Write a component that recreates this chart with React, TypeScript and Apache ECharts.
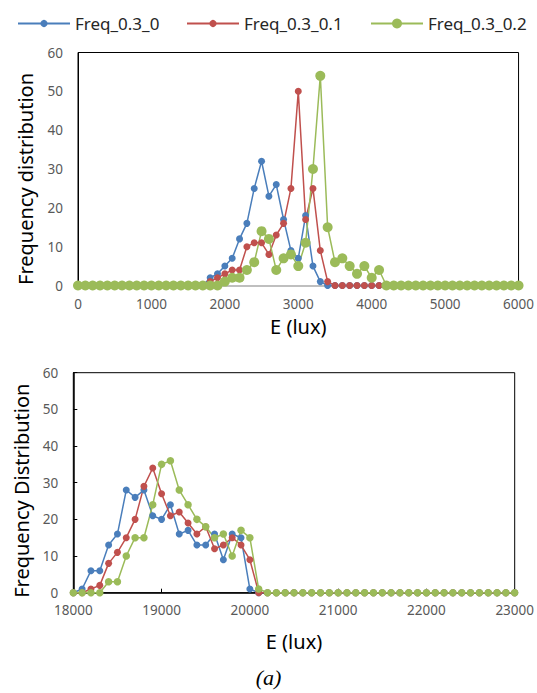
import React, { useEffect, useRef } from "react";
import * as echarts from "echarts";

// ---- data ----
const SERIES_NAMES = ["Freq_0.3_0", "Freq_0.3_0.1", "Freq_0.3_0.2"];
const COLORS = ["#4A7EBB", "#C0504D", "#9BBB59"];

// top panel: E from 0 to 6000 lux, bins of 100
const TOP_START = 0;
const TOP_STEP = 100;
const TOP_X_TICKS = [0, 1000, 2000, 3000, 4000, 5000, 6000];
const topBlue = [
  0, 0, 0, 0, 0, 0, 0, 0, 0, 0, 0, 0, 0, 0, 0, 0, 0, 0,
  2, 3, 5, 7, 12, 16, 25, 32, 23, 26, 17, 9, 7, 18, 5, 1,
  0, 0, 0, 0, 0, 0, 0, 0, 0, 0, 0, 0, 0, 0, 0, 0, 0, 0, 0, 0, 0, 0, 0, 0, 0, 0, 0,
];
const topRed = [
  0, 0, 0, 0, 0, 0, 0, 0, 0, 0, 0, 0, 0, 0, 0, 0, 0, 0,
  1, 2, 3, 4, 4, 10, 11, 11, 8, 13, 16, 25, 50, 17, 25, 9, 1,
  0, 0, 0, 0, 0, 0, 0, 0, 0, 0, 0, 0, 0, 0, 0, 0, 0, 0, 0, 0, 0, 0, 0, 0, 0, 0,
];
const topGreen = [
  0, 0, 0, 0, 0, 0, 0, 0, 0, 0, 0, 0, 0, 0, 0, 0, 0, 0, 0, 0,
  1, 2, 2, 4, 6, 14, 12, 4, 7, 8, 5, 11, 30, 54, 15, 6, 7, 5, 3, 5, 2, 4,
  0, 0, 0, 0, 0, 0, 0, 0, 0, 0, 0, 0, 0, 0, 0, 0, 0, 0, 0,
];

// bottom panel: E from 18000 to 23000 lux, bins of 100
const BOTTOM_START = 18000;
const BOTTOM_STEP = 100;
const BOTTOM_X_TICKS = [18000, 19000, 20000, 21000, 22000, 23000];
const bottomBlue = [
  0, 1, 6, 6, 13, 16, 28, 26, 28, 21, 20, 24, 16, 17, 13, 13, 16, 9, 16, 15, 1,
  0, 0, 0, 0, 0, 0, 0, 0, 0, 0, 0, 0, 0, 0, 0, 0, 0, 0, 0, 0, 0, 0, 0, 0, 0, 0, 0, 0, 0, 0,
];
const bottomRed = [
  0, 0, 1, 2, 8, 11, 15, 20, 29, 34, 27, 21, 22, 19, 16, 18, 12, 13, 15, 13, 9,
  0, 0, 0, 0, 0, 0, 0, 0, 0, 0, 0, 0, 0, 0, 0, 0, 0, 0, 0, 0, 0, 0, 0, 0, 0, 0, 0, 0, 0, 0,
];
const bottomGreen = [
  0, 0, 0, 0, 3, 3, 10, 15, 15, 24, 35, 36, 28, 24, 20, 18, 15, 16, 10, 17, 15, 1,
  0, 0, 0, 0, 0, 0, 0, 0, 0, 0, 0, 0, 0, 0, 0, 0, 0, 0, 0, 0, 0, 0, 0, 0, 0, 0, 0, 0, 0,
];

const FONT = "'Noto Sans', 'Open Sans', sans-serif";

function toPairs(vals: number[], start: number, step: number) {
  return vals.map((v, i) => [start + i * step, v]);
}

function mkSeries(idx: number, vals: number[], start: number, step: number, gi: number, size: number) {
  return {
    name: SERIES_NAMES[idx],
    type: "line",
    xAxisIndex: gi,
    yAxisIndex: gi,
    data: toPairs(vals, start, step),
    symbol: "circle",
    symbolSize: size,
    showSymbol: true,
    showAllSymbol: true,
    clip: false,
    lineStyle: { color: COLORS[idx], width: 1.5 },
    itemStyle: { color: COLORS[idx] },
    emphasis: { disabled: true },
  };
}

export default function App() {
  const ref = useRef<HTMLDivElement>(null);
  useEffect(() => {
    if (!ref.current) return;
    const chart = echarts.init(ref.current, undefined, { renderer: "svg" });
    const plain = (v: number) => String(v);
    const tickLabel = { color: "#595959", fontSize: 13.5, fontFamily: FONT, formatter: plain };
    const nameStyle = { color: "#000", fontSize: 20, fontFamily: FONT };
    const legendText = { color: "#262626", fontSize: 17, fontFamily: FONT };
    chart.setOption({
      animation: false,
      backgroundColor: "#fff",
      legend: [
        { data: [SERIES_NAMES[0]], left: 17, top: 15, padding: 0, itemWidth: 52, itemHeight: 9, textStyle: legendText, selectedMode: false },
        { data: [SERIES_NAMES[1]], left: 186, top: 15, padding: 0, itemWidth: 52, itemHeight: 9, textStyle: legendText, selectedMode: false },
        { data: [SERIES_NAMES[2]], left: 370, top: 15, padding: 0, itemWidth: 52, itemHeight: 12.5, textStyle: legendText, selectedMode: false },
      ],
      grid: [
        { left: 78, right: 18, top: 52.5, height: 233, show: true, borderColor: "#000", borderWidth: 1, backgroundColor: "transparent" },
        { left: 73.3, right: 19, top: 372.7, height: 220, show: true, borderColor: "#000", borderWidth: 1, backgroundColor: "transparent" },
      ],
      xAxis: [
        {
          gridIndex: 0,
          type: "value",
          min: TOP_X_TICKS[0],
          max: TOP_X_TICKS[TOP_X_TICKS.length - 1],
          interval: 1000,
          name: "E (lux)",
          nameLocation: "middle",
          nameGap: 31,
          nameTextStyle: nameStyle,
          axisLine: { show: true, lineStyle: { color: "#BFBFBF", width: 2 } },
          axisTick: { show: false },
          splitLine: { show: false },
          axisLabel: { ...tickLabel, margin: 11 },
        },
        {
          gridIndex: 1,
          type: "value",
          min: BOTTOM_X_TICKS[0],
          max: BOTTOM_X_TICKS[BOTTOM_X_TICKS.length - 1],
          interval: 1000,
          name: "E (lux)",
          nameLocation: "middle",
          nameGap: 39,
          nameTextStyle: nameStyle,
          axisLine: { show: true, lineStyle: { color: "#000", width: 1.5 } },
          axisTick: { show: true, inside: true, length: 4, lineStyle: { color: "#000" } },
          splitLine: { show: false },
          axisLabel: { ...tickLabel, margin: 10 },
        },
      ],
      yAxis: [
        {
          gridIndex: 0,
          type: "value",
          min: 0,
          max: 60,
          interval: 10,
          name: "Frequency distribution",
          nameLocation: "middle",
          nameGap: 43,
          nameTextStyle: { ...nameStyle, padding: [0, 20, 0, 0] },
          axisLine: { show: true, lineStyle: { color: "#000", width: 1 } },
          axisTick: { show: false },
          splitLine: { show: false },
          axisLabel: { ...tickLabel, margin: 15 },
        },
        {
          gridIndex: 1,
          type: "value",
          min: 0,
          max: 60,
          interval: 10,
          name: "Frequency Distribution",
          nameLocation: "middle",
          nameGap: 41,
          nameTextStyle: { ...nameStyle, padding: [0, 16, 0, 0] },
          axisLine: { show: true, lineStyle: { color: "#000", width: 1.5 } },
          axisTick: { show: true, inside: true, length: 4, lineStyle: { color: "#000" } },
          splitLine: { show: false },
          axisLabel: { ...tickLabel, margin: 15 },
        },
      ],
      graphic: [
        {
          type: "text",
          left: "center",
          top: 666,
          style: { text: "(a)", fontSize: 22, fontStyle: "italic", fontFamily: "'Liberation Serif', serif", fill: "#000" },
        },
      ],
      series: [
        mkSeries(0, topBlue, TOP_START, TOP_STEP, 0, 7),
        mkSeries(1, topRed, TOP_START, TOP_STEP, 0, 7),
        mkSeries(2, topGreen, TOP_START, TOP_STEP, 0, 10),
        mkSeries(0, bottomBlue, BOTTOM_START, BOTTOM_STEP, 1, 7),
        mkSeries(1, bottomRed, BOTTOM_START, BOTTOM_STEP, 1, 7),
        mkSeries(2, bottomGreen, BOTTOM_START, BOTTOM_STEP, 1, 7.5),
      ],
    });
    return () => chart.dispose();
  }, []);
  return <div ref={ref} style={{ position: "absolute", left: 0, top: 0, width: 537, height: 693 }} />;
}
